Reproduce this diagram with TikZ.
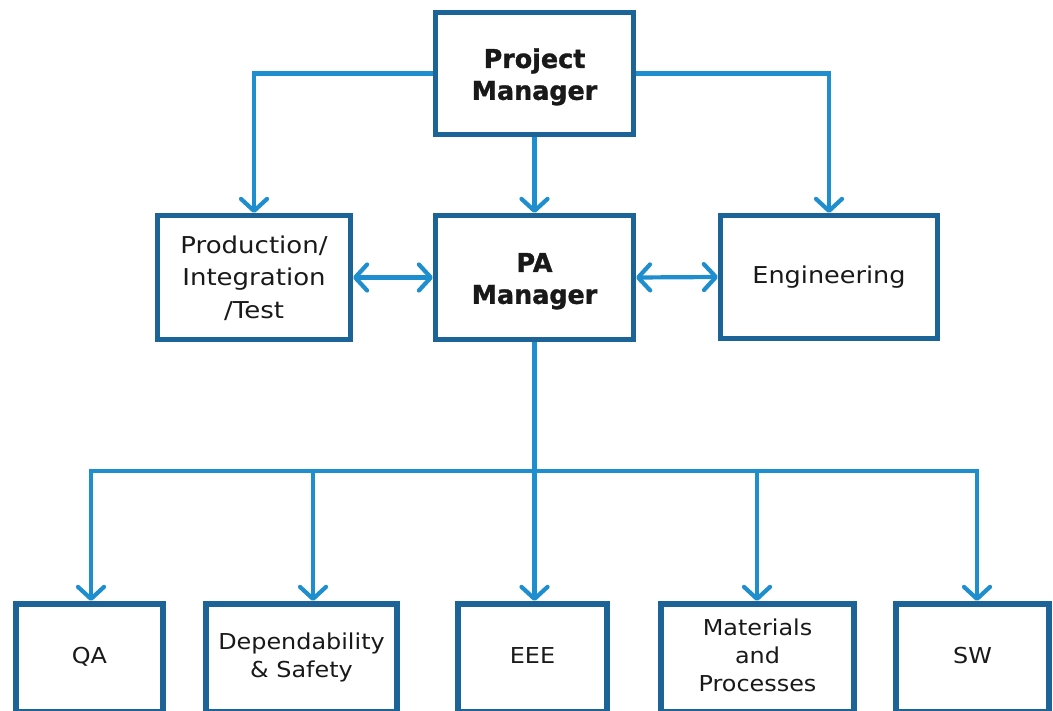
\documentclass[tikz,border=0pt]{standalone}
\usepackage{fontspec}
\setmainfont{DejaVu Sans}[BoldFeatures={FakeBold=1.2}]
\usepackage{graphicx}
\usetikzlibrary{arrows.meta}

\definecolor{boxblue}{RGB}{28,100,152}
\definecolor{linkblue}{RGB}{30,142,206}

% horizontally widened, centred multi-line label
\newcommand\wtext[2][1.12]{\scalebox{#1}[1]{\begin{tabular}{@{}c@{}}#2\end{tabular}}}
% the same, set a little lower without changing the node size
\newcommand\dropped[2]{\raisebox{-#1}[\height][\depth]{#2}}

\tikzset{
  unit/.style={draw=boxblue, line width=5bp, fill=white, rectangle,
               inner sep=0pt, text=black!90,
               font=\fontsize{23.3}{32.5}\selectfont},
  lead/.style={unit, font=\fontsize{26}{32}\selectfont\bfseries},
  team/.style={unit, line width=6bp, font=\fontsize{22}{28}\selectfont},
  link/.style={draw=linkblue, line width=4.2bp},
  tip/.tip={Straight Barb[length=12bp,width=26bp,round]},
  arr/.style={link, -tip},
  biarr/.style={link, tip-tip}
}

\begin{document}
\begin{tikzpicture}[x=1bp,y=-1bp]
\useasboundingbox (0,0) rectangle (1053,711);

% management level
\node[lead, minimum width=198bp, minimum height=122bp] (pm) at (534.5,73.5)
  {\dropped{4bp}{\wtext[0.98]{Project\\Manager}}};
\node[unit, minimum width=193bp, minimum height=124bp] (prod) at (254,277.5)
  {\dropped{2bp}{\wtext{Production/\\Integration\\/Test}}};
\node[lead, minimum width=198bp, minimum height=124bp] (pa) at (534.5,277.5)
  {\dropped{4bp}{\wtext[0.98]{PA\\Manager}}};
\node[unit, minimum width=217bp, minimum height=123bp] (eng) at (829,277)
  {\wtext[1.1]{Engineering}};

% specialist teams
\node[team, minimum width=147bp, minimum height=108bp] (qa) at (89.5,658)
  {\wtext[1.09]{QA}};
\node[team, minimum width=191bp, minimum height=108bp] (dep) at (301.5,658)
  {\wtext[1.09]{Dependability\\\& Safety}};
\node[team, minimum width=149bp, minimum height=108bp] (eee) at (532.5,658)
  {\wtext[1.09]{EEE}};
\node[team, minimum width=193bp, minimum height=108bp] (mat) at (757.5,658)
  {\wtext[1.09]{Materials\\and\\Processes}};
\node[team, minimum width=153bp, minimum height=108bp] (sw) at (972.5,658)
  {\wtext[1.09]{SW}};

% reporting lines from the project manager
\draw[arr] (pm.west) -| (prod.north);
\draw[arr] (pm.east) -| (eng.north);
\draw[arr] (pm.south) -- (pa.north);

% peer interfaces
\draw[biarr] (prod.east) -- (pa.west);
\draw[biarr] (pa.east) -- (eng.west);

% distribution bus to the teams
\coordinate (bus) at (534.5,471);
\coordinate (b1) at (91,471);
\coordinate (b2) at (313,471);
\coordinate (b3) at (534.5,471);
\coordinate (b4) at (757,471);
\coordinate (b5) at (977,471);
\draw[link] (pa.south) -- (bus);
\draw[link, line cap=rect] (b1) -- (b5);
\draw[arr] (b1) -- (b1 |- qa.north);
\draw[arr] (b2) -- (b2 |- dep.north);
\draw[arr] (b3) -- (b3 |- eee.north);
\draw[arr] (b4) -- (b4 |- mat.north);
\draw[arr] (b5) -- (b5 |- sw.north);
\end{tikzpicture}
\end{document}
